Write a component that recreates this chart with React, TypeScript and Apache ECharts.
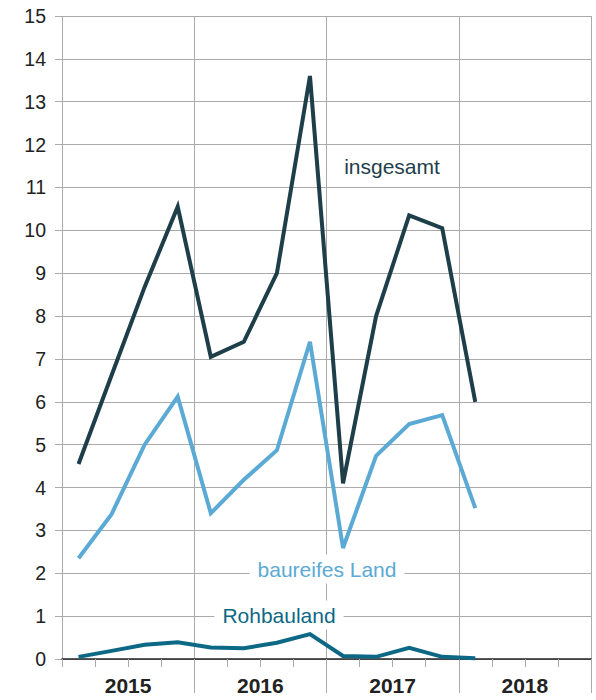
import React, { useEffect, useRef } from "react";
import * as echarts from "echarts";

const quarters = [
  "2015 Q1", "2015 Q2", "2015 Q3", "2015 Q4",
  "2016 Q1", "2016 Q2", "2016 Q3", "2016 Q4",
  "2017 Q1", "2017 Q2", "2017 Q3", "2017 Q4",
  "2018 Q1", "2018 Q2", "2018 Q3", "2018 Q4",
];
const years = ["2015", "2016", "2017", "2018"];

const insgesamt = [4.55, 6.62, 8.68, 10.55, 7.05, 7.4, 9.0, 13.6, 4.1, 8.0, 10.35, 10.05, 6.0];
const baureifesLand = [2.35, 3.38, 5.0, 6.12, 3.4, 4.18, 4.87, 7.4, 2.59, 4.74, 5.48, 5.69, 3.52];
const rohbauland = [0.05, 0.19, 0.33, 0.39, 0.27, 0.25, 0.38, 0.58, 0.07, 0.05, 0.26, 0.05, 0.02];

const yTicks = { min: 0, max: 15, interval: 1 };

const C_INS = "#1e3e4a";
const C_BAU = "#5aaad5";
const C_ROH = "#0d6886";
const GRID = "#aaaaaa";
const FONT = "Liberation Sans";

export default function App() {
  const ref = useRef<HTMLDivElement>(null);
  useEffect(() => {
    if (!ref.current) return;
    const chart = echarts.init(ref.current, null, { renderer: "svg" });
    const lineSeries = (name: string, data: number[], color: string) => ({
      name,
      type: "line",
      data,
      xAxisIndex: 0,
      symbol: "none",
      lineStyle: { color, width: 4, join: "miter" },
      itemStyle: { color },
      z: 5,
    });
    chart.setOption({
      animation: false,
      backgroundColor: "#ffffff",
      grid: { left: 62, right: 5, top: 16, bottom: 41, containLabel: false },
      xAxis: [
        {
          type: "category",
          data: quarters,
          boundaryGap: true,
          position: "bottom",
          axisLine: { show: true, lineStyle: { color: "#222", width: 1.5 } },
          axisTick: { show: true, length: 8, interval: 0, lineStyle: { color: GRID, width: 1 } },
          axisLabel: { show: false },
          splitLine: { show: false },
          z: 4,
        },
        {
          type: "category",
          data: years,
          boundaryGap: true,
          position: "bottom",
          axisLine: { show: false },
          axisTick: {
            show: true,
            length: 34,
            interval: (i: number) => i > 0 && i < years.length,
            lineStyle: { color: GRID, width: 1 },
          },
          axisLabel: {
            show: true,
            interval: 0,
            margin: 16,
            fontFamily: FONT,
            fontSize: 21,
            fontWeight: "bold",
            color: "#222",
          },
          splitLine: { show: true, interval: 0, lineStyle: { color: GRID, width: 1 } },
        },
      ],
      yAxis: {
        type: "value",
        min: yTicks.min,
        max: yTicks.max,
        interval: yTicks.interval,
        axisLine: { show: false },
        axisTick: { show: true, length: 7, lineStyle: { color: GRID, width: 1 } },
        axisLabel: { fontFamily: FONT, fontSize: 19.5, color: "#222", margin: 16 },
        splitLine: { show: true, lineStyle: { color: GRID, width: 1 } },
      },
      graphic: [
        {
          type: "text",
          x: 392,
          y: 166,
          z: 100,
          style: {
            text: "insgesamt",
            fontFamily: FONT,
            fontSize: 21,
            fill: C_INS,
            align: "center",
            verticalAlign: "middle",
          },
        },
        {
          type: "text",
          x: 327,
          y: 569,
          z: 100,
          style: {
            text: "baureifes Land",
            fontFamily: FONT,
            fontSize: 21,
            fill: C_BAU,
            align: "center",
            verticalAlign: "middle",
            backgroundColor: "#ffffff",
            padding: [4, 8],
          },
        },
        {
          type: "text",
          x: 279,
          y: 615,
          z: 100,
          style: {
            text: "Rohbauland",
            fontFamily: FONT,
            fontSize: 21,
            fill: C_ROH,
            align: "center",
            verticalAlign: "middle",
            backgroundColor: "#ffffff",
            padding: [4, 8],
          },
        },
      ],
      series: [
        lineSeries("insgesamt", insgesamt, C_INS),
        lineSeries("baureifes Land", baureifesLand, C_BAU),
        lineSeries("Rohbauland", rohbauland, C_ROH),
      ],
    });
    return () => chart.dispose();
  }, []);
  return <div ref={ref} style={{ width: 596, height: 700, position: "absolute", left: 0, top: 0 }} />;
}
